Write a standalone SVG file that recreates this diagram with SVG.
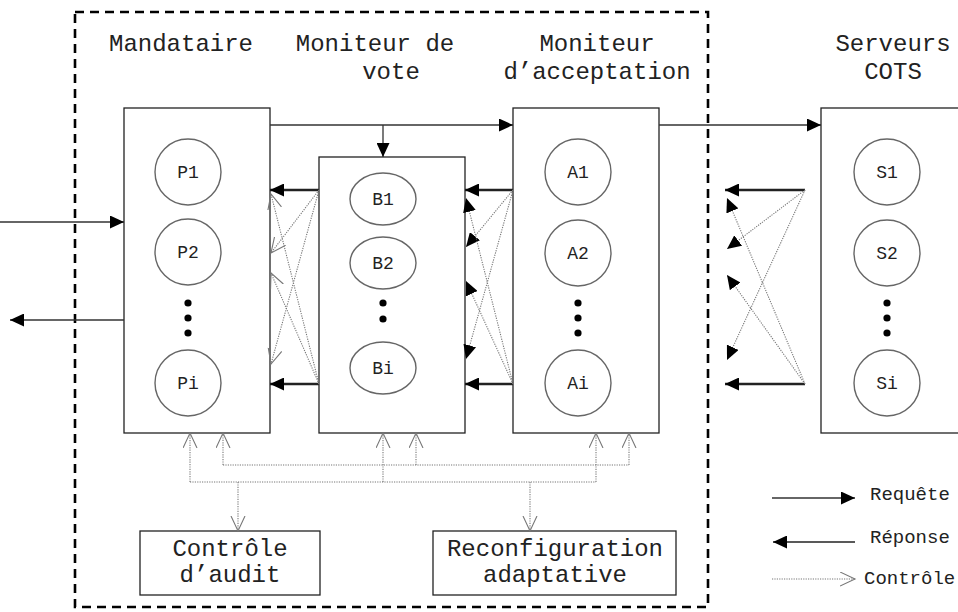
<svg xmlns="http://www.w3.org/2000/svg" width="958" height="612" viewBox="0 0 958 612">
<style>
.box{fill:#fff;stroke:#222;stroke-width:1.3}
.circ{fill:#fff;stroke:#666;stroke-width:1.4}
.lbl{font-family:"Liberation Mono","Courier New",monospace;font-size:18px;fill:#222;text-anchor:middle}
.title{font-family:"Liberation Mono","Courier New",monospace;font-size:24px;fill:#222;text-anchor:middle}
.leg{font-family:"Liberation Mono","Courier New",monospace;font-size:19px;fill:#222}
.req{stroke:#333;stroke-width:1.3;fill:none;marker-end:url(#fa)}
.resp{stroke:#222;stroke-width:2.3;fill:none;marker-end:url(#fa)}
.ctl{stroke:#777;stroke-width:1.1;stroke-dasharray:1.2 1.2;fill:none;marker-end:url(#oa)}
.ctlf{stroke:#777;stroke-width:1.1;stroke-dasharray:1.2 1.2;fill:none;marker-end:url(#fa)}
.ctlp{stroke:#777;stroke-width:1.1;stroke-dasharray:1.2 1.2;fill:none}
.dot{fill:#000}
</style>
<defs>
<marker id="fa" markerUnits="userSpaceOnUse" markerWidth="15" markerHeight="13" refX="14" refY="6.5" orient="auto">
<path d="M0,0 L14,6.5 L0,13 z" fill="#000"/>
</marker>
<marker id="oa" markerUnits="userSpaceOnUse" markerWidth="17" markerHeight="16" refX="15" refY="7.5" orient="auto">
<path d="M0,0.5 L15,7.5 L0,14.5" fill="none" stroke="#777" stroke-width="1.1"/>
</marker>
</defs>
<rect width="958" height="612" fill="#fff"/>

<!-- dashed boundary -->
<rect id="boundary" x="75" y="12" width="633" height="595" fill="none" stroke="#000" stroke-width="2.6" stroke-dasharray="9 6"/>

<!-- titles -->
<g id="titles">
<text class="title" x="181" y="51">Mandataire</text>
<text class="title" x="375" y="51">Moniteur de</text>
<text class="title" x="391" y="79">vote</text>
<text class="title" x="597" y="51">Moniteur</text>
<text class="title" x="597" y="79">d’acceptation</text>
<text class="title" x="893" y="51">Serveurs</text>
<text class="title" x="893" y="79">COTS</text>
</g>

<g id="mandataire">
<rect class="box" x="124" y="108" width="146" height="325"/>
<circle class="circ" cx="188" cy="172" r="33"/><text class="lbl" x="188" y="178">P1</text>
<circle class="circ" cx="188" cy="252" r="33"/><text class="lbl" x="188" y="258">P2</text>
<circle class="dot" cx="188" cy="303" r="3.6"/><circle class="dot" cx="188" cy="318" r="3.6"/><circle class="dot" cx="188" cy="333" r="3.6"/>
<circle class="circ" cx="188" cy="383" r="33"/><text class="lbl" x="188" y="389">Pi</text>
</g>

<g id="vote">
<rect class="box" x="319" y="157" width="146" height="276"/>
<ellipse class="circ" cx="383" cy="199" rx="33" ry="26"/><text class="lbl" x="383" y="205">B1</text>
<ellipse class="circ" cx="383" cy="263" rx="33" ry="26"/><text class="lbl" x="383" y="269">B2</text>
<circle class="dot" cx="383" cy="303" r="3.6"/><circle class="dot" cx="383" cy="319" r="3.6"/>
<ellipse class="circ" cx="383" cy="368" rx="33" ry="26"/><text class="lbl" x="383" y="374">Bi</text>
</g>

<g id="acceptation">
<rect class="box" x="513" y="108" width="146" height="325"/>
<circle class="circ" cx="578" cy="172" r="33"/><text class="lbl" x="578" y="178">A1</text>
<circle class="circ" cx="578" cy="253" r="33"/><text class="lbl" x="578" y="259">A2</text>
<circle class="dot" cx="578" cy="303" r="3.6"/><circle class="dot" cx="578" cy="318" r="3.6"/><circle class="dot" cx="578" cy="333" r="3.6"/>
<circle class="circ" cx="578" cy="383" r="33"/><text class="lbl" x="578" y="389">Ai</text>
</g>

<g id="serveurs">
<rect class="box" x="821" y="108" width="160" height="325"/>
<circle class="circ" cx="887" cy="172" r="33"/><text class="lbl" x="887" y="178">S1</text>
<circle class="circ" cx="887" cy="253" r="33"/><text class="lbl" x="887" y="259">S2</text>
<circle class="dot" cx="887" cy="303" r="3.6"/><circle class="dot" cx="887" cy="318" r="3.6"/><circle class="dot" cx="887" cy="333" r="3.6"/>
<circle class="circ" cx="887" cy="383" r="33"/><text class="lbl" x="887" y="389">Si</text>
</g>

<g id="audit">
<rect class="box" x="140" y="531" width="180" height="64"/>
<text class="title" x="230" y="556">Contrôle</text>
<text class="title" x="230" y="582">d’audit</text>
</g>

<g id="reconfig">
<rect class="box" x="433" y="531" width="243" height="64"/>
<text class="title" x="555" y="556">Reconfiguration</text>
<text class="title" x="555" y="582">adaptative</text>
</g>

<g id="connectors">
<!-- requests -->
<line class="req" x1="0" y1="222" x2="124" y2="222"/>
<line class="req" x1="124" y1="320" x2="10" y2="320"/>
<line class="req" x1="270" y1="125" x2="513" y2="125"/>
<line class="req" x1="383" y1="125" x2="383" y2="157"/>
<line class="req" x1="659" y1="125" x2="821" y2="125"/>
<!-- responses -->
<line class="resp" x1="319" y1="190" x2="270" y2="190"/>
<line class="resp" x1="319" y1="384" x2="270" y2="384"/>
<line class="resp" x1="513" y1="190" x2="465" y2="190"/>
<line class="resp" x1="513" y1="384" x2="465" y2="384"/>
<line class="resp" x1="805" y1="190" x2="725" y2="190"/>
<line class="resp" x1="805" y1="384" x2="725" y2="384"/>
<!-- control between mandataire and vote -->
<line class="ctl" x1="319" y1="190" x2="271" y2="253"/>
<line class="ctl" x1="319" y1="190" x2="271" y2="364"/>
<line class="ctl" x1="319" y1="384" x2="271" y2="194"/>
<line class="ctl" x1="319" y1="384" x2="271" y2="273"/>
<!-- control between vote and acceptation -->
<line class="ctlf" x1="513" y1="190" x2="466" y2="247"/>
<line class="ctlf" x1="513" y1="190" x2="466" y2="359"/>
<line class="ctlf" x1="513" y1="384" x2="466" y2="198"/>
<line class="ctlf" x1="513" y1="384" x2="466" y2="281"/>
<!-- control between acceptation and servers -->
<line class="ctlf" x1="805" y1="190" x2="727" y2="249"/>
<line class="ctlf" x1="805" y1="190" x2="727" y2="360"/>
<line class="ctlf" x1="805" y1="384" x2="727" y2="198"/>
<line class="ctlf" x1="805" y1="384" x2="727" y2="275"/>
<!-- bottom control bus -->
<polyline class="ctlp" points="190,482 596,482"/>
<polyline class="ctlp" points="223,465 629,465"/>
<line class="ctl" x1="190" y1="482" x2="190" y2="433"/>
<line class="ctl" x1="223" y1="465" x2="223" y2="433"/>
<line class="ctl" x1="383" y1="482" x2="383" y2="433"/>
<line class="ctl" x1="416" y1="465" x2="416" y2="433"/>
<line class="ctl" x1="596" y1="482" x2="596" y2="433"/>
<line class="ctl" x1="629" y1="465" x2="629" y2="433"/>
<line class="ctl" x1="238" y1="482" x2="238" y2="531"/>
<line class="ctl" x1="530" y1="482" x2="530" y2="531"/>
</g>

<g id="legend">
<line class="req" x1="772" y1="498" x2="855" y2="498"/>
<text class="leg" x="870" y="500">Requête</text>
<line class="resp" x1="855" y1="542" x2="773" y2="542" style="stroke-width:1.5"/>
<text class="leg" x="870" y="543">Réponse</text>
<line class="ctl" x1="772" y1="579" x2="855" y2="579"/>
<text class="leg" x="864" y="584">Contrôle</text>
</g>
</svg>
